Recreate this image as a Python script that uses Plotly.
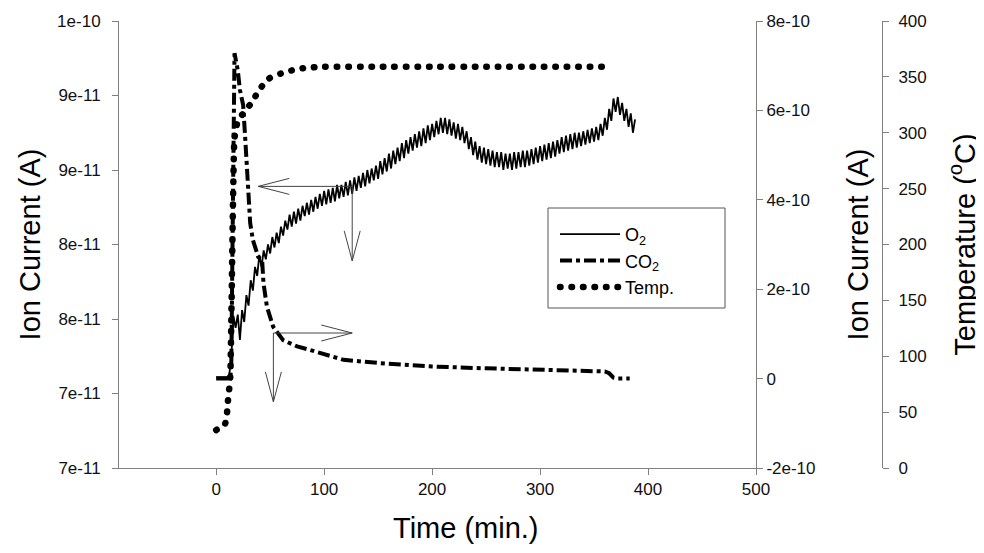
import plotly.graph_objects as go

# ---------------- data ----------------
# O2 ion current (units of 1e-11 A), sampled every 2 min from 0 to 388 min
o2_time = list(range(0, 389, 2))
o2_e11 = [
    7.61, 7.61, 7.61, 7.61, 7.61, 7.61, 7.62, 7.74, 8.02, 7.94,
    8.03, 7.86, 8.06, 7.98, 8.16, 8.09, 8.26, 8.19, 8.35, 8.29,
    8.43, 8.35, 8.46, 8.40, 8.50, 8.44, 8.55, 8.48, 8.58, 8.51,
    8.62, 8.56, 8.66, 8.60, 8.70, 8.62, 8.72, 8.64, 8.74, 8.66,
    8.76, 8.69, 8.78, 8.70, 8.80, 8.72, 8.82, 8.74, 8.84, 8.76,
    8.86, 8.77, 8.87, 8.78, 8.88, 8.79, 8.90, 8.81, 8.90, 8.82,
    8.92, 8.83, 8.93, 8.84, 8.95, 8.86, 8.96, 8.88, 8.98, 8.89,
    9.00, 8.91, 9.01, 8.93, 9.03, 8.94, 9.06, 8.97, 9.08, 8.99,
    9.11, 9.01, 9.13, 9.04, 9.15, 9.06, 9.18, 9.08, 9.20, 9.11,
    9.22, 9.13, 9.24, 9.15, 9.26, 9.16, 9.28, 9.18, 9.30, 9.20,
    9.31, 9.22, 9.33, 9.24, 9.35, 9.25, 9.35, 9.24, 9.34, 9.23,
    9.32, 9.21, 9.31, 9.20, 9.29, 9.18, 9.26, 9.14, 9.22, 9.10,
    9.19, 9.07, 9.16, 9.05, 9.15, 9.04, 9.14, 9.03, 9.13, 9.02,
    9.12, 9.02, 9.12, 9.00, 9.11, 9.01, 9.11, 9.00, 9.12, 9.01,
    9.12, 9.02, 9.13, 9.02, 9.13, 9.03, 9.14, 9.04, 9.15, 9.05,
    9.16, 9.06, 9.17, 9.07, 9.18, 9.08, 9.19, 9.09, 9.20, 9.11,
    9.22, 9.12, 9.23, 9.13, 9.24, 9.14, 9.25, 9.15, 9.25, 9.16,
    9.26, 9.17, 9.27, 9.18, 9.28, 9.19, 9.29, 9.20, 9.31, 9.23,
    9.35, 9.27, 9.41, 9.33, 9.48, 9.39, 9.49, 9.37, 9.45, 9.33,
    9.41, 9.29, 9.38, 9.25, 9.34,
]
assert len(o2_time) == len(o2_e11)

# CO2 ion current (units of 1e-10 A)
co2_time = [0, 5, 10, 13, 14, 15, 16, 17, 18, 20, 22, 25, 27, 29, 30, 31.5, 34, 39,
            42.6, 43.8, 47, 52.8, 62, 75, 87, 100, 118, 150, 180, 200, 250, 300,
            350, 360, 364, 366, 368, 372, 376, 380, 383]
co2_e10 = [0.0, 0.0, 0.0, 0.0, 0.3, 2.0, 5.0, 7.28, 7.15, 6.90, 6.46, 6.12, 5.34, 4.60,
           4.00, 3.48, 3.10, 2.72, 2.65, 2.14, 1.61, 1.16, 0.86, 0.72, 0.64, 0.55, 0.42,
           0.35, 0.29, 0.27, 0.23, 0.20, 0.18, 0.16, 0.12, 0.06, 0.02, 0.0, 0.0, 0.0, 0.0]

# Temperature (deg C)
temp_time = [0, 8, 10, 10.8, 12, 13, 14, 15, 16, 17, 20, 27, 33, 39, 48, 60, 71, 82,
             100, 150, 200, 250, 300, 360]
temp_c = [34, 39, 49, 59, 70, 81, 130, 200, 260, 295, 310, 320, 327, 337, 348, 353,
          356, 358, 359, 359, 359, 359, 359, 359]

# tick labels
time_ticks = [0, 100, 200, 300, 400, 500]
left_ticks = [7.0e-11, 7.5e-11, 8.0e-11, 8.5e-11, 9.0e-11, 9.5e-11, 1.0e-10]
left_text = ["7e-11", "7e-11", "8e-11", "8e-11", "9e-11", "9e-11", "1e-10"]
right_ticks = [-2e-10, 0, 2e-10, 4e-10, 6e-10, 8e-10]
right_text = ["-2e-10", "0", "2e-10", "4e-10", "6e-10", "8e-10"]
temp_ticks = [0, 50, 100, 150, 200, 250, 300, 350, 400]

# arrow anchors (data units)
o2_arrow = dict(t=126, v=8.89e-11, t_end=39, v_end=8.39e-11)
co2_arrow = dict(t=53, v=1.02e-10, t_end=126, v_end=-0.52e-10)

# ---------------- figure ----------------
FONT = "Liberation Sans, Arial, sans-serif"
AX = "#808080"

fig = go.Figure()
fig.add_trace(go.Scatter(
    x=o2_time, y=[v * 1e-11 for v in o2_e11], name="O<sub>2</sub>",
    mode="lines", line=dict(color="black", width=1.8), xaxis="x", yaxis="y"))
fig.add_trace(go.Scatter(
    x=co2_time, y=[v * 1e-10 for v in co2_e10], name="CO<sub>2</sub>",
    mode="lines", line=dict(color="black", width=4, dash="dashdot"), xaxis="x", yaxis="y2"))
fig.add_trace(go.Scatter(
    x=temp_time, y=temp_c, name="Temp.",
    mode="lines", line=dict(color="black", width=6.5, dash="0.5px,11px",
                            shape="spline", smoothing=0.6),
    xaxis="x", yaxis="y3"))

common = dict(showline=True, linecolor=AX, linewidth=1, ticks="outside", ticklen=6,
              tickcolor=AX, showgrid=False, zeroline=False, automargin=False,
              tickfont=dict(family=FONT, size=17, color="#111"))

W, H = 976, 545          # page adds an 8 px body margin
L, T, R, B = 111, 13, 102, 85
pw = W - L - R
ph = H - T - B
xdom = (756 - 119) / pw
TITLE = 29


def px_x(px):   # page pixel -> paper fraction
    return (px - 119) / pw


def px_y(py):
    return (468 - py) / ph


fig.update_layout(
    width=W, height=H,
    margin=dict(l=L, r=R, t=T, b=B),
    paper_bgcolor="white", plot_bgcolor="white",
    font=dict(family=FONT, color="black"),
    xaxis=dict(domain=[0, xdom], range=[-90, 500], tickvals=time_ticks, **common),
    yaxis=dict(range=[7e-11, 1e-10], tickvals=left_ticks, ticktext=left_text,
               ticklabelstandoff=8,
               title=dict(text="Ion Current (A)", font=dict(size=TITLE), standoff=7), **common),
    yaxis2=dict(range=[-2e-10, 8e-10], tickvals=right_ticks, ticktext=right_text,
                overlaying="y", side="right", anchor="x",
                title=dict(text="Ion Current (A)", font=dict(size=TITLE), standoff=33), **common),
    yaxis3=dict(range=[0, 400], tickvals=temp_ticks, overlaying="y", side="right",
                anchor="free", position=1.0, ticklabelstandoff=6,
                title=dict(text="Temperature (<sup>o</sup>C)", font=dict(size=TITLE), standoff=28),
                **common),
    legend=dict(x=px_x(555), y=px_y(216), xanchor="left", yanchor="top",
                borderwidth=0, bgcolor="rgba(0,0,0,0)",
                font=dict(family=FONT, size=18), itemwidth=60, tracegroupgap=0),
    showlegend=True,
    annotations=[dict(text="Time (min.)", xref="paper", yref="paper",
                      x=px_x(466), y=px_y(528), xanchor="center",
                      yanchor="middle", showarrow=False, font=dict(size=TITLE, family=FONT))],
)

ARROW = dict(color="#444", width=1)
shapes = []
# legend frame
shapes.append(dict(type="rect", xref="paper", yref="paper", x0=px_x(548), x1=px_x(725),
                   y0=px_y(308), y1=px_y(208), line=dict(color="#555", width=1),
                   fillcolor="white", layer="above"))
shapes.append(dict(type="line", xref="x", yref="y", x0=o2_arrow["t_end"], x1=o2_arrow["t"],
                   y0=o2_arrow["v"], y1=o2_arrow["v"], line=ARROW))
shapes.append(dict(type="line", xref="x", yref="y", x0=o2_arrow["t"], x1=o2_arrow["t"],
                   y0=o2_arrow["v"], y1=o2_arrow["v_end"], line=ARROW))
shapes.append(dict(type="line", xref="x", yref="y2", x0=co2_arrow["t"], x1=co2_arrow["t_end"],
                   y0=co2_arrow["v"], y1=co2_arrow["v"], line=ARROW))
shapes.append(dict(type="line", xref="x", yref="y2", x0=co2_arrow["t"], x1=co2_arrow["t"],
                   y0=co2_arrow["v"], y1=co2_arrow["v_end"], line=ARROW))


def chevron(xa, ya, yref, arms):
    out = []
    for dx, dy in arms:
        out.append(dict(type="line", xref="x", yref=yref, xsizemode="pixel", ysizemode="pixel",
                        xanchor=xa, yanchor=ya, x0=0, y0=0, x1=dx, y1=dy, line=ARROW))
    return out


shapes += chevron(o2_arrow["t_end"], o2_arrow["v"], "y", [(31, 8), (31, -8)])
shapes += chevron(o2_arrow["t"], o2_arrow["v_end"], "y", [(-8, 30), (8, 30)])
shapes += chevron(co2_arrow["t_end"], co2_arrow["v"], "y2", [(-31, 8), (-31, -8)])
shapes += chevron(co2_arrow["t"], co2_arrow["v_end"], "y2", [(-8, 30), (8, 30)])
fig.update_layout(shapes=shapes)

# round line caps so the dotted temperature line is drawn as round dots
round_dots = """
var gd = document.getElementById('{plot_id}');
function roundDots(){
  gd.querySelectorAll('path').forEach(function(p){
    var d = p.style.strokeDasharray || '';
    if (d.indexOf('0.5px') === 0) { p.style.strokeLinecap = 'round'; }
  });
}
roundDots();
gd.on('plotly_afterplot', roundDots);
"""

fig.write_html("out.html", post_script=round_dots)
